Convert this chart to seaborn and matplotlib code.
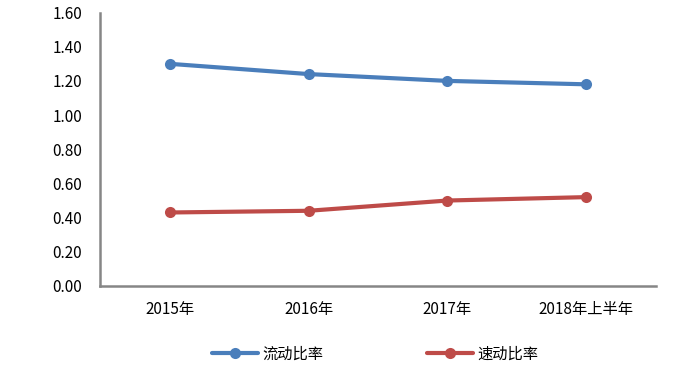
import pandas as pd
import matplotlib
matplotlib.use('Agg')
import matplotlib.pyplot as plt
import seaborn as sns

# data
periods = ['2015年', '2016年', '2017年', '2018年上半年']
current_ratio = [1.30, 1.24, 1.20, 1.18]
quick_ratio = [0.43, 0.44, 0.50, 0.52]
series_names = ['流动比率', '速动比率']
y_ticks = [0.0, 0.2, 0.4, 0.6, 0.8, 1.0, 1.2, 1.4, 1.6]

df = pd.DataFrame({
    'period': periods * 2,
    'idx': list(range(len(periods))) * 2,
    'value': current_ratio + quick_ratio,
    'series': [series_names[0]] * len(periods) + [series_names[1]] * len(periods),
})

sns.set_theme(style='white')
plt.rcParams['font.family'] = ['Noto Sans CJK SC', 'DejaVu Sans']
plt.rcParams['text.color'] = 'black'
plt.rcParams['xtick.labelcolor'] = 'black'
plt.rcParams['ytick.labelcolor'] = 'black'

fig = plt.figure(figsize=(7.0, 3.69), dpi=100)
ax = fig.add_axes([0.143, 0.225, 0.794, 0.741])

palette = {series_names[0]: '#4A7EBB', series_names[1]: '#BE4B48'}
sns.lineplot(data=df, x='idx', y='value', hue='series', palette=palette,
             marker='o', markersize=8, markeredgewidth=0, linewidth=3,
             ax=ax, legend=True)

axis_color = '#868686'
ax.set_xlim(-0.5, len(periods) - 0.5)
ax.set_ylim(0, 1.6)
ax.set_yticks(y_ticks)
ax.set_yticklabels([f'{v:.2f}' for v in y_ticks], fontsize=11)

# category labels between boundary ticks, Excel style
ax.set_xticks([i - 0.5 for i in range(len(periods) + 1)])
ax.set_xticklabels([])
ax.set_xticks(range(len(periods)), minor=True)
ax.set_xticklabels(periods, minor=True, fontsize=11)
ax.tick_params(axis='x', which='minor', length=0, pad=11)
ax.tick_params(axis='x', which='major', length=5, width=1.5, color=axis_color, direction='out')
ax.tick_params(axis='y', length=5, width=1.5, color=axis_color, direction='out', pad=8)

for side in ['top', 'right']:
    ax.spines[side].set_visible(False)
for side in ['left', 'bottom']:
    ax.spines[side].set_color(axis_color)
    ax.spines[side].set_linewidth(1.8)

ax.set_xlabel('')
ax.set_ylabel('')
ax.grid(False)

handles, labels = ax.get_legend_handles_labels()
ax.get_legend().remove()
fig.legend(handles, labels, loc='center', bbox_to_anchor=(0.536, 0.04), ncol=2,
           frameon=False, fontsize=11, handlelength=3.0, columnspacing=6.8,
           handletextpad=0.3)

fig.savefig('out.png', dpi=100)
